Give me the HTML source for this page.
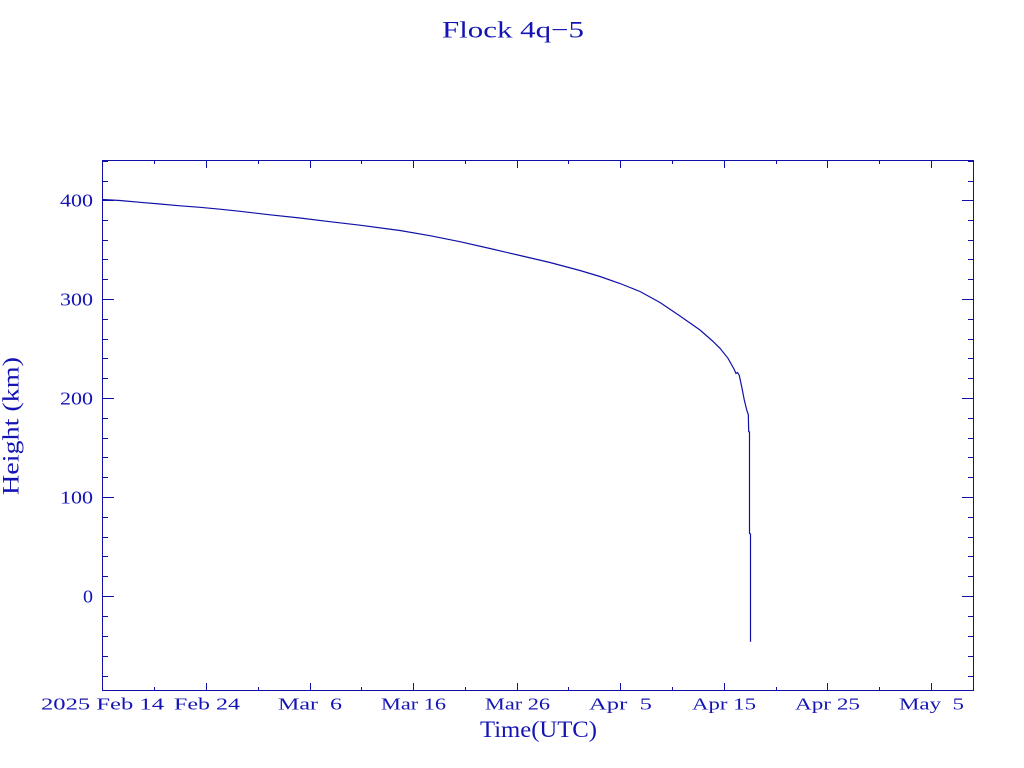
<!DOCTYPE html>
<html>
<head>
<meta charset="utf-8">
<style>
  html, body { margin: 0; padding: 0; background: #ffffff; }
  body { width: 1024px; height: 768px; overflow: hidden; }
  svg { display: block; }
  text { font-family: "Liberation Serif", "DejaVu Serif", serif; fill: #1414b4; }
</style>
</head>
<body>
<svg width="1024" height="768" viewBox="0 0 1024 768" xmlns="http://www.w3.org/2000/svg">
  <rect x="0" y="0" width="1024" height="768" fill="#ffffff"/>

  <!-- Title -->
  <text x="442" y="37.5" font-size="23.5" textLength="142" lengthAdjust="spacingAndGlyphs">Flock 4q−5</text>

  <!-- Frame -->
  <g stroke="#1010a8" stroke-width="1" fill="none" shape-rendering="crispEdges">
    <rect x="102.5" y="160.5" width="871" height="530"/>

    <path d="M102 200.5h12 M102 299.5h12 M102 398.5h12 M102 497.5h12 M102 596.5h12"/>
    <path d="M974 200.5h-12 M974 299.5h-12 M974 398.5h-12 M974 497.5h-12 M974 596.5h-12"/>
    <path d="M102 676.5h6 M102 656.5h6 M102 636.5h6 M102 616.5h6
             M102 576.5h6 M102 556.5h6 M102 537.5h6 M102 517.5h6
             M102 477.5h6 M102 457.5h6 M102 438.5h6 M102 418.5h6
             M102 378.5h6 M102 358.5h6 M102 339.5h6 M102 319.5h6
             M102 279.5h6 M102 259.5h6 M102 240.5h6 M102 220.5h6
             M102 181.5h6 M102 161.5h6"/>
    <path d="M974 676.5h-6 M974 656.5h-6 M974 636.5h-6 M974 616.5h-6
             M974 576.5h-6 M974 556.5h-6 M974 537.5h-6 M974 517.5h-6
             M974 477.5h-6 M974 457.5h-6 M974 438.5h-6 M974 418.5h-6
             M974 378.5h-6 M974 358.5h-6 M974 339.5h-6 M974 319.5h-6
             M974 279.5h-6 M974 259.5h-6 M974 240.5h-6 M974 220.5h-6
             M974 181.5h-6 M974 161.5h-6"/>

    <path d="M206.5 691v-8 M310.5 691v-8 M413.5 691v-8 M517.5 691v-8 M620.5 691v-8 M724.5 691v-8 M827.5 691v-8 M931.5 691v-8"/>
    <path d="M206.5 160v8 M310.5 160v8 M413.5 160v8 M517.5 160v8 M620.5 160v8 M724.5 160v8 M827.5 160v8 M931.5 160v8"/>
    <path d="M154.5 691v-4 M258.5 691v-4 M361.5 691v-4 M465.5 691v-4 M568.5 691v-4 M672.5 691v-4 M776.5 691v-4 M879.5 691v-4"/>
    <path d="M154.5 160v4 M258.5 160v4 M361.5 160v4 M465.5 160v4 M568.5 160v4 M672.5 160v4 M776.5 160v4 M879.5 160v4"/>
  </g>

  <!-- Y tick labels -->
  <g font-size="18">
    <text x="60" y="206.5" textLength="33" lengthAdjust="spacingAndGlyphs">400</text>
    <text x="60" y="305.5" textLength="33" lengthAdjust="spacingAndGlyphs">300</text>
    <text x="60" y="404.5" textLength="33" lengthAdjust="spacingAndGlyphs">200</text>
    <text x="60" y="503.5" textLength="33" lengthAdjust="spacingAndGlyphs">100</text>
    <text x="83" y="602.5" textLength="10" lengthAdjust="spacingAndGlyphs">0</text>
  </g>

  <!-- X tick labels -->
  <g font-size="17">
    <text x="41" y="709.5" textLength="123" lengthAdjust="spacingAndGlyphs">2025 Feb 14</text>
    <text x="174" y="709.5" textLength="66" lengthAdjust="spacingAndGlyphs">Feb 24</text>
    <text x="278" y="709.5" textLength="64" lengthAdjust="spacingAndGlyphs" xml:space="preserve">Mar  6</text>
    <text x="381" y="709.5" textLength="65" lengthAdjust="spacingAndGlyphs">Mar 16</text>
    <text x="485" y="709.5" textLength="65" lengthAdjust="spacingAndGlyphs">Mar 26</text>
    <text x="589" y="709.5" textLength="63" lengthAdjust="spacingAndGlyphs" xml:space="preserve">Apr  5</text>
    <text x="692" y="709.5" textLength="64" lengthAdjust="spacingAndGlyphs">Apr 15</text>
    <text x="795" y="709.5" textLength="65" lengthAdjust="spacingAndGlyphs">Apr 25</text>
    <text x="899" y="709.5" textLength="65" lengthAdjust="spacingAndGlyphs" xml:space="preserve">May  5</text>
  </g>

  <!-- Axis labels -->
  <text x="480" y="737" font-size="22.7" textLength="117" lengthAdjust="spacingAndGlyphs">Time(UTC)</text>
  <text transform="translate(18.5 495) rotate(-90)" x="0" y="0" font-size="22.7" textLength="138" lengthAdjust="spacingAndGlyphs">Height (km)</text>

  <!-- Data curve -->
  <polyline fill="none" stroke="#1010a8" stroke-width="1.2" stroke-linejoin="miter"
    points="102,199.5 120,200.5 140,202.3 160,204 180,205.8 200,207.3 220,209.2 240,211.3 270,214.8 300,218 330,221.7 360,225.2 400,230.5 430,235.7 460,241.7 490,248.5 520,255.5 550,262.5 580,270.5 600,276.5 620,283.5 640,291.5 660,302.5 680,316 700,330 712,340.5 720,348.3 728,358.3 734,369 736,373.5 737.5,372.5 739.3,375.5 741.7,386.7 744.3,400 746.7,410 748.3,414.5 748.7,431.7 749.5,432 749.5,533.3 750.5,534 750.5,641.7"/>
</svg>
</body>
</html>
